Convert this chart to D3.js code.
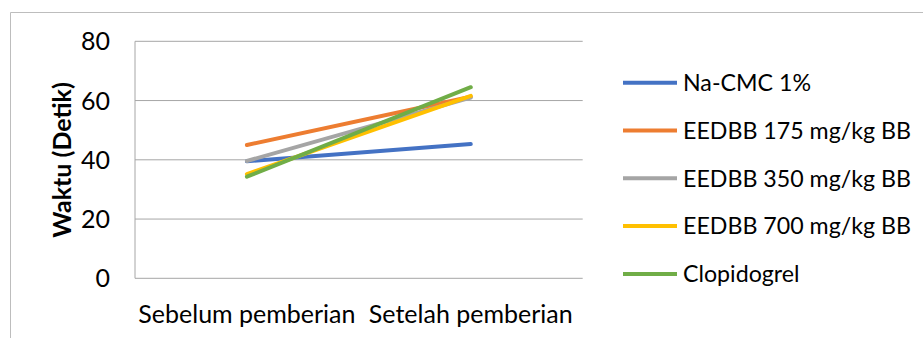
<!DOCTYPE html>
<html>
<head>
<meta charset="utf-8">
<script src="https://cdn.jsdelivr.net/npm/d3@7"></script>
<style>
  body { margin: 0; background: #fff; }
  svg { display: block; font-family: Lato, "Open Sans", sans-serif; }
</style>
</head>
<body>
<div id="chart"></div>
<script>
const categories = ["Sebelum pemberian", "Setelah pemberian"];
const seriesNames = ["Na-CMC 1%", "EEDBB 175 mg/kg BB", "EEDBB 350 mg/kg BB", "EEDBB 700 mg/kg BB", "Clopidogrel"];
const naCmc = [39.5, 45.3];
const eedbb175 = [45.0, 61.3];
const eedbb350 = [39.6, 61.0];
const eedbb700 = [35.2, 61.6];
const clopidogrel = [34.3, 64.5];
const yTicks = [0, 20, 40, 60, 80];
const colors = ["#4472C4", "#ED7D31", "#A5A5A5", "#FFC000", "#70AD47"];

const series = [naCmc, eedbb175, eedbb350, eedbb700, clopidogrel].map((v, i) => ({
  name: seriesNames[i], values: v, color: colors[i]
}));

const width = 923, height = 338;
const plotLeft = 135, plotRight = 582.7, plotTop = 41.3, plotBottom = 278.3;
const fontSize = 25;

let svg = d3.select("#chart").append("svg")
  .attr("width", width)
  .attr("height", height);

// outer chart border
svg.append("path")
  .attr("d", `M10.5,${height}V12.5H${width}`)
  .attr("fill", "none")
  .attr("stroke", "#bdbdbd")
  .attr("stroke-width", 1);

const x = d3.scaleBand().domain(categories).range([plotLeft, plotRight]);
const y = d3.scaleLinear().domain([0, 80]).range([plotBottom, plotTop]);

// gridlines
svg.append("g").selectAll("line").data(yTicks).join("line")
  .attr("x1", plotLeft).attr("x2", plotRight)
  .attr("y1", d => y(d)).attr("y2", d => y(d))
  .attr("stroke", "#a6a6a6").attr("stroke-width", 1);

svg.append("line")
  .attr("x1", plotLeft).attr("x2", plotLeft)
  .attr("y1", plotTop).attr("y2", plotBottom)
  .attr("stroke", "#a6a6a6").attr("stroke-width", 1);

// y tick labels
svg.append("g").selectAll("text").data(yTicks).join("text")
  .attr("x", 110).attr("y", d => y(d))
  .attr("dy", "0.36em")
  .attr("text-anchor", "end")
  .attr("font-size", fontSize)
  .attr("fill", "#000")
  .text(d => d);

// category labels
svg.append("g").selectAll("text").data(categories).join("text")
  .attr("x", d => x(d) + x.bandwidth() / 2)
  .attr("y", 323)
  .attr("text-anchor", "middle")
  .attr("font-size", fontSize)
  .attr("fill", "#000")
  .text(d => d);

// y axis title
svg.append("text")
  .attr("transform", "translate(62,160) rotate(-90)")
  .attr("dy", "0.36em")
  .attr("text-anchor", "middle")
  .attr("font-size", fontSize)
  .attr("font-weight", "bold")
  .text("Waktu (Detik)");

const line = d3.line()
  .x((d, i) => x(categories[i]) + x.bandwidth() / 2)
  .y(d => y(d));

svg.append("g").selectAll("path").data(series).join("path")
  .attr("d", d => line(d.values))
  .attr("fill", "none")
  .attr("stroke", d => d.color)
  .attr("stroke-width", 4)
  .attr("stroke-linecap", "round");

// legend
const legend = svg.append("g").selectAll("g").data(series).join("g")
  .attr("transform", (d, i) => `translate(623,${82.7 + i * 47.8})`);
legend.append("line")
  .attr("x1", 0).attr("x2", 54)
  .attr("stroke", d => d.color)
  .attr("stroke-width", 4);
legend.append("text")
  .attr("x", 60).attr("dy", "0.36em")
  .attr("font-size", 23.2)
  .attr("fill", "#000")
  .text(d => d.name);
</script>
</body>
</html>
